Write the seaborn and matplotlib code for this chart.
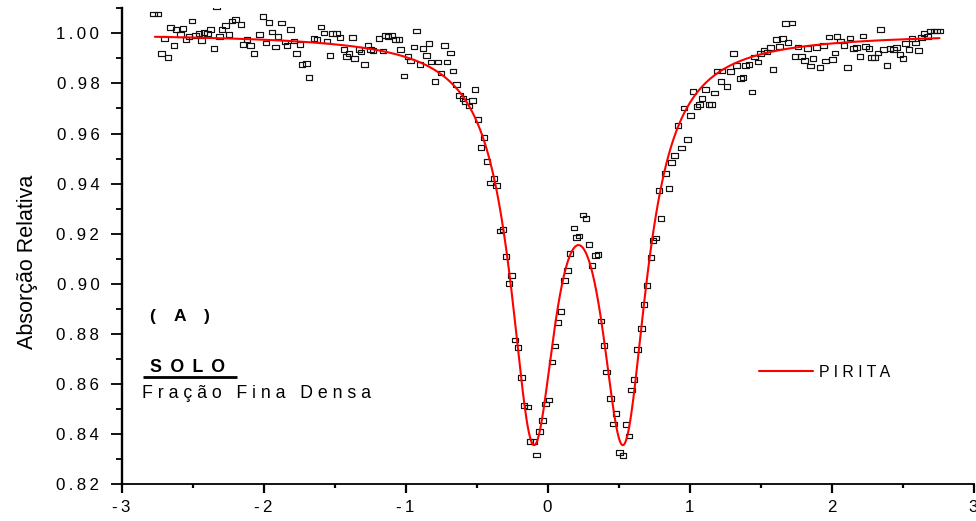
import numpy as np
import pandas as pd
import matplotlib
matplotlib.use("Agg")
import matplotlib.pyplot as plt
from matplotlib.path import Path
from matplotlib.lines import Line2D
from matplotlib.ticker import FixedLocator, MultipleLocator, FuncFormatter
import seaborn as sns

# Mössbauer spectrum: velocity (mm/s) and relative absorption per channel
velocity = [
    -2.775, -2.744, -2.718, -2.697, -2.674, -2.655, -2.632, -2.615, -2.585, -2.568,
    -2.547, -2.526, -2.502, -2.479, -2.455, -2.437, -2.420, -2.396, -2.373, -2.350,
    -2.331, -2.310, -2.291, -2.268, -2.244, -2.221, -2.197, -2.157, -2.143, -2.115,
    -2.092, -2.068, -2.028, -2.005, -1.981, -1.962, -1.939, -1.915, -1.897, -1.873,
    -1.850, -1.833, -1.810, -1.786, -1.768, -1.744, -1.728, -1.699, -1.680, -1.646,
    -1.622, -1.594, -1.575, -1.552, -1.533,
    -1.516, -1.486, -1.463, -1.434, -1.415, -1.399, -1.375, -1.359, -1.329, -1.312,
    -1.289, -1.265, -1.246, -1.228, -1.188, -1.157, -1.141, -1.125, -1.094, -1.070,
    -1.047, -1.035, -1.012, -0.984, -0.965, -0.942, -0.923, -0.899, -0.876, -0.854,
    -0.836, -0.819, -0.793, -0.772, -0.749, -0.725, -0.707, -0.683, -0.664, -0.641,
    -0.620, -0.596, -0.577, -0.554, -0.530, -0.512, -0.491, -0.467, -0.448, -0.425,
    -0.401, -0.378, -0.359, -0.336, -0.312, -0.291,
    -0.272, -0.254, -0.230, -0.209, -0.185, -0.167, -0.139, -0.125, -0.096, -0.077,
    -0.056, -0.035, -0.014, 0.009, 0.033, 0.052, 0.075, 0.094, 0.120, 0.139,
    0.157, 0.185, 0.204, 0.220, 0.249, 0.270, 0.291, 0.314, 0.338, 0.354,
    0.378, 0.397, 0.415, 0.444, 0.463, 0.481, 0.505, 0.530, 0.554, 0.573,
    0.592, 0.608, 0.632, 0.660, 0.678, 0.702, 0.730, 0.744, 0.763, 0.785,
    0.800, 0.831, 0.854, 0.873, 0.894, 0.920, 0.942, 0.960, 0.984, 1.007,
    1.026, 1.054, 1.070, 1.089, 1.113, 1.136, 1.155, 1.176, 1.195, 1.223,
    1.230, 1.265, 1.289, 1.308, 1.331, 1.359, 1.375, 1.394, 1.418, 1.441,
    1.458, 1.481, 1.500, 1.523, 1.547, 1.570, 1.589, 1.613, 1.634, 1.653,
    1.676, 1.695, 1.723, 1.742, 1.765, 1.787, 1.810, 1.829, 1.852, 1.871,
    1.894, 1.918, 1.942, 1.958, 1.982, 2.005, 2.024, 2.040, 2.063, 2.087,
    2.111, 2.129, 2.153, 2.176, 2.199, 2.221, 2.239, 2.263, 2.282, 2.303,
    2.326, 2.345, 2.364, 2.392, 2.411, 2.435, 2.458, 2.481, 2.502, 2.521,
    2.545, 2.568, 2.592, 2.611, 2.632, 2.650, 2.674, 2.697, 2.721, 2.739,
    2.763,
]
absorption = [
    1.0078, 1.0078, 0.9919, 0.9979, 0.9903, 1.0023, 0.9951, 1.0015, 0.9995, 1.0019,
    0.9975, 0.9988, 1.0049, 0.9991, 0.9999, 0.9971, 1.0004, 0.9999, 1.0015, 0.9939,
    1.0105, 0.9988, 1.0015, 1.0032, 0.9996, 1.0049, 1.0055, 1.0036, 0.9956, 0.9975,
    0.9952, 0.9919, 0.9995, 1.0068, 0.9961, 1.0044, 1.0005, 0.9945, 0.9988, 1.0041,
    0.9965, 0.9951, 1.0015, 0.9969, 0.9919, 0.9956, 0.9876, 0.9879, 0.9823, 0.9979,
    0.9975, 1.0025, 1.0001, 0.9969, 0.9912,
    0.9999, 0.9999, 0.9983, 0.9935, 0.9908, 0.9919, 0.9983, 0.9899, 0.9935, 0.9926,
    0.9875, 0.9952, 0.9935, 0.9932, 0.9979, 0.9930, 0.9992, 0.9988, 0.9992, 0.9975,
    0.9976, 0.9935, 0.9830, 0.9908, 0.9890, 0.9945, 1.0009, 0.9876, 0.9939, 0.9912,
    0.9959, 0.9886, 0.9808, 0.9886, 0.9842, 0.9952, 0.9886, 0.9922, 0.9850, 0.9797,
    0.9753, 0.9739, 0.9729, 0.9710, 0.9733, 0.9775, 0.9657, 0.9544, 0.9584, 0.9489,
    0.9403, 0.9420, 0.9393, 0.9211, 0.9217, 0.9110,
    0.9001, 0.9034, 0.8775, 0.8746, 0.8625, 0.8513, 0.8507, 0.8369, 0.8369, 0.8316,
    0.8409, 0.8454, 0.8519, 0.8535, 0.8688, 0.8751, 0.8845, 0.8888, 0.9014, 0.9054,
    0.9121, 0.9223, 0.9185, 0.9190, 0.9274, 0.9261, 0.9157, 0.9074, 0.9114, 0.9118,
    0.8851, 0.8754, 0.8648, 0.8542, 0.8440, 0.8481, 0.8327, 0.8313, 0.8437, 0.8392,
    0.8575, 0.8618, 0.8738, 0.8821, 0.8918, 0.8994, 0.9106, 0.9172, 0.9183, 0.9372,
    0.9261, 0.9440, 0.9380, 0.9484, 0.9511, 0.9633, 0.9542, 0.9702, 0.9576, 0.9673,
    0.9769, 0.9709, 0.9717, 0.9739, 0.9775, 0.9717, 0.9715, 0.9762, 0.9850, 0.9808,
    0.9850, 0.9789, 0.9848, 0.9919, 0.9872, 0.9819, 0.9823, 0.9872, 0.9875, 0.9766,
    0.9906, 0.9886, 0.9919, 0.9932, 0.9926, 0.9943, 0.9856, 0.9975, 0.9948, 0.9979,
    1.0039, 0.9963, 1.0041, 0.9908, 0.9945, 0.9908, 0.9892, 0.9939, 0.9870, 0.9899,
    0.9943, 0.9863, 0.9952, 0.9890, 0.9985, 0.9895, 0.9922, 0.9988, 0.9969, 0.9952,
    0.9863, 0.9981, 0.9939, 0.9943, 0.9908, 0.9989, 0.9948, 0.9939, 0.9903, 0.9903,
    0.9922, 1.0015, 0.9935, 0.9872, 0.9939, 0.9935, 0.9943, 0.9916, 0.9899, 0.9959,
    0.9935, 0.9979, 0.9961, 0.9932, 0.9983, 0.9999, 0.9988, 1.0009, 1.0009, 1.0009,
    1.0009,
]

# Fitted pyrite doublet (two Lorentzian lines of equal width and depth)
fit_label = "PIRITA"
fit_baseline = 1.0
fit_center = 0.218      # isomer shift, mm/s
fit_splitting = 0.635   # quadrupole splitting, mm/s
fit_hwhm = 0.198        # half width at half maximum, mm/s
fit_depth = 0.151
fit_vmin, fit_vmax = -2.765, 2.76

x_ticks = [-3, -2, -1, 0, 1, 2, 3]
y_ticks = [0.82, 0.84, 0.86, 0.88, 0.90, 0.92, 0.94, 0.96, 0.98, 1.00]
x_limits = (-3, 3)
y_limits = (0.82, 1.01)

panel_tag = "( A )"
sample_title = "SOLO"
sample_fraction = "Fração Fina Densa"
y_title = "Absorção Relativa"

THIN = "\u2009"


def spaced(text, gap=" ", word_gap="   "):
    """Spread the letters of a label apart, with wider gaps between words."""
    return word_gap.join(gap.join(word) for word in text.split(" "))


def doublet(v):
    lines = 0.0
    for c in (fit_center - fit_splitting / 2, fit_center + fit_splitting / 2):
        lines = lines + 1.0 / (1.0 + ((v - c) / fit_hwhm) ** 2)
    return fit_baseline - fit_depth * lines


spectrum = pd.DataFrame({"velocity": velocity, "absorption": absorption})
fit_v = np.linspace(fit_vmin, fit_vmax, 1200)
fit = pd.DataFrame({"velocity": fit_v, "absorption": doublet(fit_v)})

sns.set_theme(style="ticks")
plt.rcParams["font.family"] = ["Liberation Sans", "DejaVu Sans"]
plt.rcParams["text.color"] = "black"
plt.rcParams["axes.labelcolor"] = "black"
plt.rcParams["xtick.color"] = "black"
plt.rcParams["ytick.color"] = "black"

fig = plt.figure(figsize=(9.76, 5.21), dpi=100)
ax = fig.add_axes([0.1245, 0.071, 0.873, 0.913])

# open, slightly wide rectangles for the measured counts
box = Path([(-1.4, -1), (1.4, -1), (1.4, 1), (-1.4, 1), (-1.4, -1)],
           [Path.MOVETO, Path.LINETO, Path.LINETO, Path.LINETO, Path.CLOSEPOLY])
sns.scatterplot(data=spectrum, x="velocity", y="absorption", ax=ax,
                marker=box, s=22, facecolors="none", edgecolor="#111111",
                linewidth=0.85, zorder=2)
sns.lineplot(data=fit, x="velocity", y="absorption", ax=ax, color="#ff0000",
             linewidth=1.5, estimator=None, sort=False, zorder=3,
             label=spaced(fit_label))

ax.set_xlim(*x_limits)
ax.set_ylim(*y_limits)
ax.xaxis.set_major_locator(FixedLocator(x_ticks))
ax.xaxis.set_minor_locator(MultipleLocator(0.5))
ax.yaxis.set_major_locator(FixedLocator(y_ticks))
ax.yaxis.set_minor_locator(MultipleLocator(0.01))
ax.xaxis.set_major_formatter(FuncFormatter(lambda v, _: spaced(f"{v:g}", gap=THIN)))
ax.yaxis.set_major_formatter(FuncFormatter(lambda v, _: spaced(f"{v:.2f}", gap=THIN)))

for side in ("top", "right"):
    ax.spines[side].set_visible(False)
ax.spines["left"].set_linewidth(1.7)
ax.spines["bottom"].set_linewidth(1.3)
ax.spines["left"].set_color("black")
ax.spines["bottom"].set_color("black")

ax.tick_params(axis="y", which="major", direction="out", length=8, width=1.3,
               labelsize=12.2, pad=8)
ax.tick_params(axis="y", which="minor", direction="out", length=4.5, width=1.3)
ax.tick_params(axis="x", which="major", direction="out", length=6.2, width=1.6,
               labelsize=12.2, pad=5)
ax.tick_params(axis="x", which="minor", direction="out", length=3.2, width=1.6)

ax.set_xlabel("")
ax.set_ylabel(y_title, fontsize=15.5)
ax.yaxis.set_label_coords(-0.0986, 0.468)

ax.text(-2.589, 0.8871, spaced(panel_tag, word_gap="   " + THIN), ha="center",
        va="center", fontsize=12.5, fontweight="bold")
ax.text(-2.802, 0.8648, spaced(sample_title, gap=" " + THIN), ha="left",
        va="baseline", fontsize=12.8, fontweight="bold")
ax.add_line(Line2D([0.0252, 0.1356], [0.2248, 0.2248], transform=ax.transAxes,
                   color="black", linewidth=2.0, solid_capstyle="butt"))
ax.text(-2.853, 0.8543, spaced(sample_fraction, gap=" ", word_gap="   "),
        ha="left", va="baseline", fontsize=12.8)

ax.legend(loc="center left", bbox_to_anchor=(0.7487, 0.2353), frameon=False,
          borderpad=0, borderaxespad=0, handlelength=3.4, handletextpad=0.38,
          fontsize=11.4)

fig.savefig("out.png", dpi=100)
